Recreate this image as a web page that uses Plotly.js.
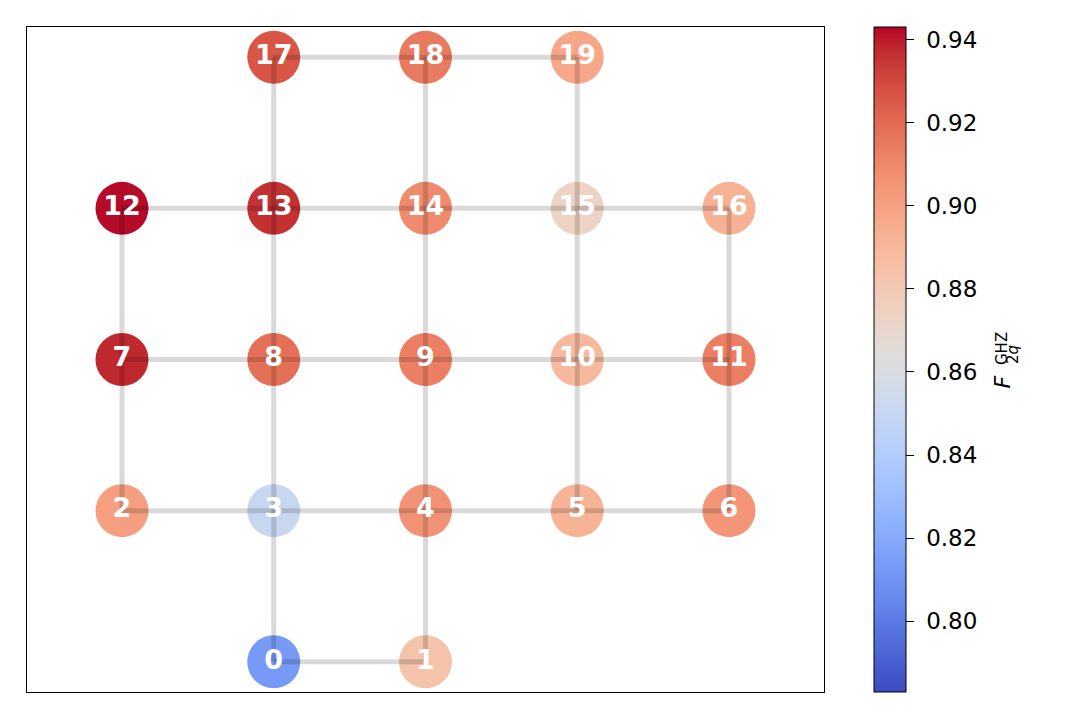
<!DOCTYPE html>
<html>
<head>
<meta charset="utf-8">
<script src="https://cdn.plot.ly/plotly-3.0.1.min.js"></script>
<style>
  body { margin: 0; background: #fff; }
  #graph { width: 1080px; height: 720px; }
</style>
</head>
<body>
<div id="graph"></div>
<script>
//***** data
var qubits = [0, 1, 2, 3, 4, 5, 6, 7, 8, 9, 10, 11, 12, 13, 14, 15, 16, 17, 18, 19];
var qubitCol = [1, 2, 0, 1, 2, 3, 4, 0, 1, 2, 3, 4, 0, 1, 2, 3, 4, 1, 2, 3];
var qubitRow = [0, 0, 1, 1, 1, 1, 1, 2, 2, 2, 2, 2, 3, 3, 3, 3, 3, 4, 4, 4];
var fidelity = [0.813, 0.884, 0.901, 0.851, 0.906, 0.892, 0.905, 0.938, 0.918, 0.913,
                0.889, 0.913, 0.942, 0.936, 0.909, 0.873, 0.893, 0.926, 0.915, 0.898];

// couplers (pairs of qubits)
var edgeFrom = [0, 0, 1, 2, 3, 4, 5, 2, 3, 4, 5, 6, 7, 8, 9, 10, 7, 8, 9, 10, 11, 12, 13, 14, 15, 13, 14, 15, 17, 18];
var edgeTo   = [1, 3, 4, 3, 4, 5, 6, 7, 8, 9, 10, 11, 8, 9, 10, 11, 12, 13, 14, 15, 16, 13, 14, 15, 16, 17, 18, 19, 18, 19];

var colorTicks = [0.80, 0.82, 0.84, 0.86, 0.88, 0.90, 0.92, 0.94];

// matplotlib coolwarm, sampled
var coolwarm = [
  [59,76,192],[68,90,204],[77,104,215],[87,117,225],[98,130,234],[108,142,241],
  [119,154,247],[130,165,251],[141,176,254],[152,185,255],[163,194,255],[174,201,253],
  [184,208,249],[194,213,244],[204,217,238],[213,219,230],[221,221,221],[229,216,209],
  [236,211,197],[241,204,185],[245,196,173],[247,187,160],[247,177,148],[247,166,135],
  [244,154,123],[241,141,111],[236,127,99],[229,112,88],[222,96,77],[213,80,66],
  [203,62,56],[192,40,47],[180,4,38]
];
//***** end of data

var colorscale = coolwarm.map(function (c, i) {
  return [i / (coolwarm.length - 1), 'rgb(' + c.join(',') + ')'];
});

var nodes = {
  x: qubitCol,
  y: qubitRow,
  type: 'scatter',
  mode: 'markers',
  hoverinfo: 'skip',
  showlegend: false,
  marker: {
    size: 53,
    color: fidelity,
    colorscale: colorscale,
    cmin: 0.783,
    cmax: 0.943,
    line: { width: 0 },
    colorbar: {
      x: 1.0627,
      xanchor: 'left',
      xpad: 0,
      y: 0.5,
      yanchor: 'middle',
      ypad: 0,
      len: 1,
      lenmode: 'fraction',
      thickness: 32,
      outlinewidth: 1,
      outlinecolor: 'black',
      tickmode: 'array',
      tickvals: colorTicks,
      ticktext: colorTicks.map(function (v) { return '\u2004' + v.toFixed(2); }),
      ticks: 'outside',
      ticklen: 8,
      tickwidth: 1,
      tickcolor: 'black',
      tickfont: { family: 'DejaVu Sans', size: 23, color: 'black' }
    }
  }
};

// one trace per coupler so the transparent lines add up where they cross
var edges = edgeFrom.map(function (a, i) {
  var b = edgeTo[i];
  return {
    x: [qubitCol[a], qubitCol[b]],
    y: [qubitRow[a], qubitRow[b]],
    type: 'scatter',
    mode: 'lines',
    hoverinfo: 'skip',
    showlegend: false,
    line: { color: 'rgba(0,0,0,0.15)', width: 5 }
  };
});

// qubit numbers on top of everything
var labels = {
  x: qubitCol,
  y: qubitRow,
  type: 'scatter',
  mode: 'text',
  text: qubits.map(String),
  textposition: 'middle center',
  textfont: { family: 'DejaVu Sans', size: 27, color: 'white', weight: 'bold' },
  hoverinfo: 'skip',
  showlegend: false
};

var data = [nodes].concat(edges, [labels]);

var axis_layout = {
  showgrid: false,
  zeroline: false,
  showticklabels: false,
  ticks: '',
  showline: true,
  mirror: true,
  linecolor: 'black',
  linewidth: 1
};
var xaxis_layout = Object.assign({}, axis_layout);
xaxis_layout.range = [-0.626, 4.626];
var yaxis_layout = Object.assign({}, axis_layout);
yaxis_layout.range = [-0.2, 4.2];

// paper coords from pixel positions of the plot frame (27..824, 27..692)
function px(x) { return (x - 27) / 797; }
function py(y) { return (692 - y) / 665; }

var labelFont = { family: 'DejaVu Sans', color: 'black' };

var layout = {
  width: 1080,
  height: 720,
  margin: { l: 27, r: 256, t: 27, b: 28 },
  paper_bgcolor: 'white',
  plot_bgcolor: 'white',
  xaxis: xaxis_layout,
  yaxis: yaxis_layout,
  annotations: [
    {
      xref: 'paper', yref: 'paper', x: px(1016), y: py(382),
      text: '<i>F</i>', showarrow: false, textangle: -90,
      font: Object.assign({ size: 22 }, labelFont)
    },
    {
      xref: 'paper', yref: 'paper', x: px(1013), y: py(349),
      text: 'GHZ', showarrow: false, textangle: -90,
      font: Object.assign({ size: 15 }, labelFont)
    },
    {
      xref: 'paper', yref: 'paper', x: px(1024), y: py(355),
      text: '2<i>q</i>', showarrow: false, textangle: -90,
      font: Object.assign({ size: 15 }, labelFont)
    }
  ]
};

Plotly.newPlot('graph', data, layout, { displayModeBar: false });
</script>
</body>
</html>
